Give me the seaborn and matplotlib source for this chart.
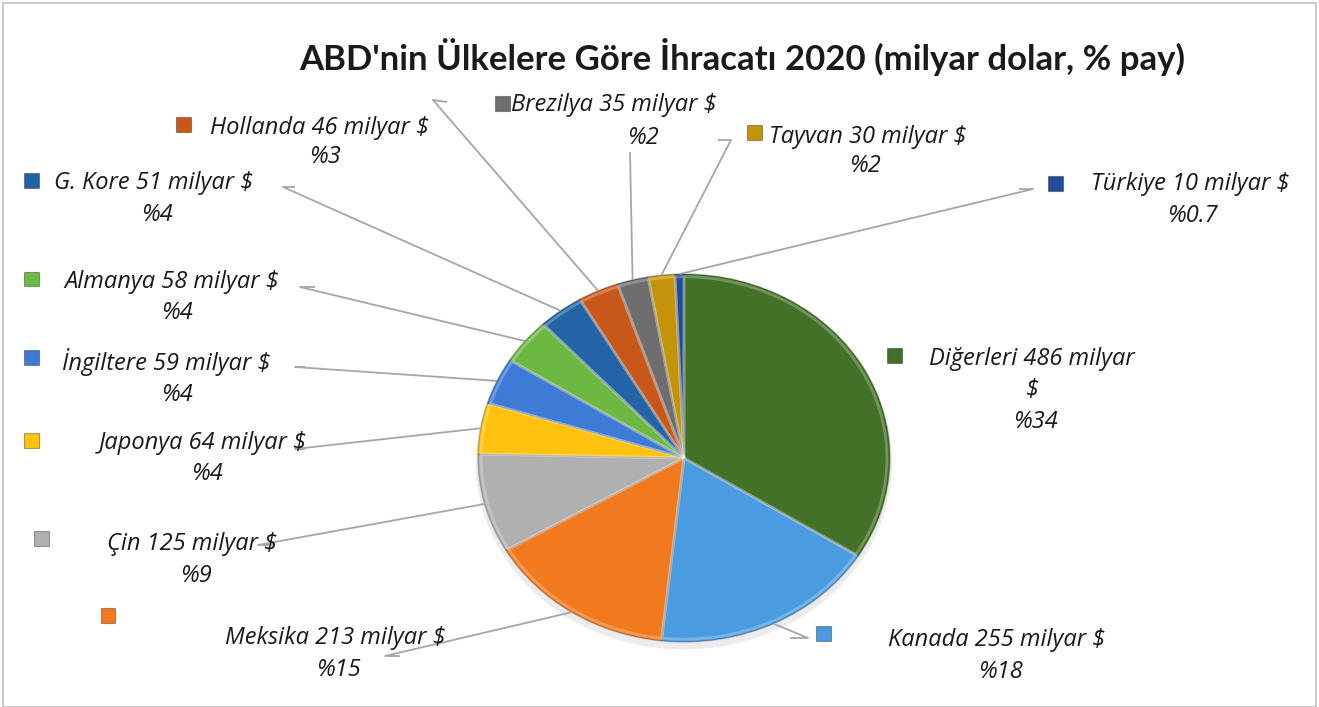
import numpy as np
import pandas as pd
import matplotlib
matplotlib.use("Agg")
import matplotlib.pyplot as plt
import seaborn as sns
from matplotlib.patches import Rectangle

# ---------------- data ----------------
countries = ["Diğerleri", "Kanada", "Meksika", "Çin", "Japonya", "İngiltere",
             "Almanya", "G. Kore", "Hollanda", "Brezilya", "Tayvan", "Türkiye"]
values = [486, 255, 213, 125, 64, 59, 58, 51, 46, 35, 30, 10]
pct_labels = ["%34", "%18", "%15", "%9", "%4", "%4", "%4", "%4", "%3", "%2", "%2", "%0.7"]
title = "ABD'nin Ülkelere Göre İhracatı 2020 (milyar dolar, % pay)"

df = pd.DataFrame({"country": countries, "value": values, "pct": pct_labels})

# ---------------- styles ----------------
colors = ["#437128", "#4A9BE0", "#F27A1E", "#B0B0B0", "#FFC20E", "#3D7BD6",
          "#6DB843", "#2264A6", "#C8581A", "#6E6E6E", "#C4930A", "#1F4E99"]

W, H = 1319, 707
CX, CY, RX, RY = 684, 458, 206, 184

layout = {
    "Diğerleri": dict(marker=(894, 355), name=[(1032, 359, "Diğerleri 486 milyar"), (1032, 390, "$")], pct=(1035, 422), line=None),
    "Kanada":    dict(marker=(823, 633), name=[(997, 640, None)], pct=(1000, 672), line=[(808, 638), (790, 638)]),
    "Meksika":   dict(marker=(108, 615), name=[(335, 638, None)], pct=(338, 670), line=[(385, 656), (400, 656)]),
    "Çin":       dict(marker=(41, 538), name=[(192, 544, None)], pct=(196, 576), line=[(258, 545), (275, 545)]),
    "Japonya":   dict(marker=(31, 440), name=[(203, 443, None)], pct=(207, 474), line=[(295, 449), (305, 449)]),
    "İngiltere": dict(marker=(31, 357), name=[(166, 362, None)], pct=(177, 395), line=[(295, 367), (305, 367)]),
    "Almanya":   dict(marker=(31, 279), name=[(172, 282, None)], pct=(177, 313), line=[(300, 287), (315, 287)]),
    "G. Kore":   dict(marker=(31, 180), name=[(154, 183, None)], pct=(157, 215), line=[(283, 187), (295, 187)]),
    "Hollanda":  dict(marker=(183, 124), name=[(320, 128, None)], pct=(325, 157), line=[(433, 100), (447, 102)]),
    "Brezilya":  dict(marker=(502, 103), name=[(614, 105, None)], pct=(643, 138), line=[(630, 152)]),
    "Tayvan":    dict(marker=(754, 132), name=[(868, 137, None)], pct=(865, 166), line=[(731, 140), (718, 140)]),
    "Türkiye":   dict(marker=(1055, 183), name=[(1190, 184, None)], pct=(1192, 216), line=[(1033, 189), (1019, 189)]),
}

sns.set_theme(style="white")
plt.rcParams["font.family"] = ["Open Sans", "DejaVu Sans"]

fig = plt.figure(figsize=(W / 100, H / 100), dpi=100)
ax = fig.add_axes([0, 0, 1, 1])

# soft shadow under pie
ax.pie(df["value"], startangle=90, counterclock=False,
       center=(0.0, -0.03), radius=1.01,
       colors=["#ececec"] * len(df), wedgeprops=dict(linewidth=0))
wedges, _ = ax.pie(df["value"], startangle=90, counterclock=False,
                   colors=colors,
                   wedgeprops=dict(edgecolor="#00000038", linewidth=1.0))
# bevel highlight
ax.pie(df["value"], startangle=90, counterclock=False, radius=0.985,
       colors=["none"] * len(df),
       wedgeprops=dict(edgecolor="#ffffff40", linewidth=2.0, fill=False))

ax.set_aspect("auto")
ax.set_xlim(-CX / RX, (W - CX) / RX)
ax.set_ylim(-(H - CY) / RY, CY / RY)
ax.axis("off")


def px2d(px, py):
    return (px - CX) / RX, (CY - py) / RY


def fig_xy(px, py):
    return px / W, 1 - py / H


# leader lines
for w, c in zip(wedges, df["country"]):
    lay = layout[c]
    if lay["line"] is None:
        continue
    mid = np.deg2rad((w.theta1 + w.theta2) / 2)
    pts = [(np.cos(mid), np.sin(mid))] + [px2d(*p) for p in lay["line"]]
    xs, ys = zip(*pts)
    ax.plot(xs, ys, color="#a6a6a6", lw=1.3, zorder=1, solid_capstyle="butt")

# labels
FS = 17
for (c, v, p), col in zip(df[["country", "value", "pct"]].values, colors):
    lay = layout[c]
    mx, my = lay["marker"]
    sq = 15
    fig.patches.append(Rectangle(fig_xy(mx - sq / 2, my + sq / 2), sq / W, sq / H,
                                 transform=fig.transFigure, facecolor=col,
                                 edgecolor="#00000055", lw=0.8, zorder=5))
    for (tx, ty, txt) in lay["name"]:
        s = txt if txt is not None else f"{c} {v} milyar $"
        fig.text(*fig_xy(tx, ty), s, ha="center", va="center", fontsize=FS,
                 style="italic", color="#1a1a1a")
    fig.text(*fig_xy(*lay["pct"]), p, ha="center", va="center", fontsize=FS,
             style="italic", color="#1a1a1a")

fig.text(*fig_xy(742, 57), title, ha="center", va="center", fontsize=25,
         fontweight="bold", color="#1a1a1a", family=["Lato", "DejaVu Sans"])

# chart border
fig.patches.append(Rectangle((3 / W, 0), (W - 6) / W, (H - 3) / H, transform=fig.transFigure,
                             fill=False, edgecolor="#bfbfbf", lw=1.2))

fig.savefig("out.png", dpi=100, facecolor="white")
